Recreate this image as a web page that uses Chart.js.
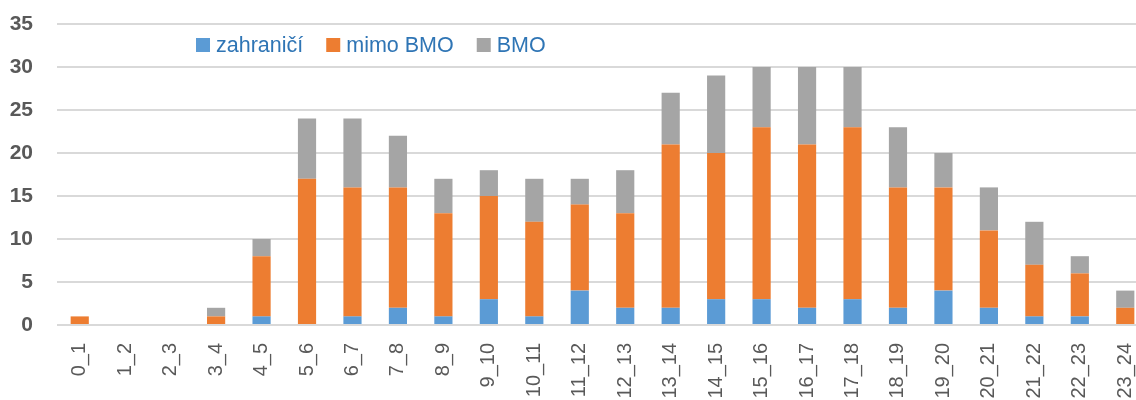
<!DOCTYPE html>
<html lang="cs">
<head>
    <meta charset="UTF-8">
    <title>Hodiny</title>
    <style>
        html, body { margin: 0; padding: 0; overflow: hidden; background: #fff; }
        #wrap { width: 1148px; height: 400px; position: relative; }
    </style>
</head>
<body>
    <div id="wrap">
        <canvas id="myChart"></canvas>
    </div>

    <script src="https://cdn.jsdelivr.net/npm/chart.js"></script>
    <script>
    "use strict"

    const hours = ["0_1", "1_2", "2_3", "3_4", "4_5", "5_6", "6_7", "7_8", "8_9", "9_10", "10_11", "11_12",
        "12_13", "13_14", "14_15", "15_16", "16_17", "17_18", "18_19", "19_20", "20_21", "21_22", "22_23", "23_24"]
    const zahranici = [0, 0, 0, 0, 1, 0, 1, 2, 1, 3, 1, 4, 2, 2, 3, 3, 2, 3, 2, 4, 2, 1, 1, 0]
    const mimoBmo   = [1, 0, 0, 1, 7, 17, 15, 14, 12, 12, 11, 10, 11, 19, 17, 20, 19, 20, 14, 12, 9, 6, 5, 2]
    const bmo       = [0, 0, 0, 1, 2, 7, 8, 6, 4, 3, 5, 3, 5, 6, 9, 7, 9, 7, 7, 4, 5, 5, 2, 2]
    const yTicks = [0, 5, 10, 15, 20, 25, 30, 35]

    const FONT = "'Liberation Sans', Arial, sans-serif"

    // legend drawn inside the plot, above the bars
    const innerLegend = {
        id: "innerLegend",
        afterDraw(chart) {
            const c = chart.ctx
            c.save()
            c.font = "21.5px " + FONT
            c.textBaseline = "middle"
            let x = 196
            const y = 45
            chart.data.datasets.forEach(ds => {
                c.fillStyle = ds.backgroundColor
                c.fillRect(x, y - 7, 14, 14)
                x += 20
                c.fillStyle = "#2f75b5"
                c.fillText(ds.label, x, y + 1)
                x += c.measureText(ds.label).width + 23
            })
            c.restore()
        }
    }

    const ctx = document.getElementById("myChart")

    let graph = new Chart(ctx, {
        type: "bar",
        data: {
            labels: hours,
            datasets: [
                { label: "zahraničí", data: zahranici, backgroundColor: "#5b9bd5" },
                { label: "mimo BMO", data: mimoBmo, backgroundColor: "#ed7d31" },
                { label: "BMO", data: bmo, backgroundColor: "#a5a5a5" }
            ]
        },
        options: {
            responsive: true,
            maintainAspectRatio: false,
            animation: false,
            layout: { padding: { top: 24, right: 0, left: 0, bottom: 0 } },
            datasets: {
                bar: { barPercentage: 0.4, categoryPercentage: 1 }
            },
            plugins: {
                legend: { display: false },
                tooltip: { enabled: false }
            },
            scales: {
                x: {
                    stacked: true,
                    grid: { display: false, drawTicks: false },
                    border: { display: false },
                    ticks: {
                        color: "#595959",
                        font: { family: FONT, size: 20 },
                        minRotation: 90,
                        maxRotation: 90,
                        padding: 18,
                        autoSkip: false
                    },
                    afterFit(s) {
                        s.height = 75
                        s.paddingRight = 0
                        s.paddingLeft = 0
                    }
                },
                y: {
                    stacked: true,
                    min: 0,
                    max: 35,
                    afterBuildTicks(s) {
                        s.ticks = yTicks.map(v => ({ value: v }))
                    },
                    grid: { color: "#d9d9d9", lineWidth: 2, drawTicks: false },
                    border: { display: false },
                    ticks: {
                        color: "#595959",
                        font: { family: FONT, size: 21, weight: "bold" },
                        padding: 24
                    },
                    afterFit(s) {
                        s.width = 57
                        s.paddingTop = 0
                        s.paddingBottom = 0
                    }
                }
            }
        },
        plugins: [innerLegend]
    })
    </script>
</body>
</html>
